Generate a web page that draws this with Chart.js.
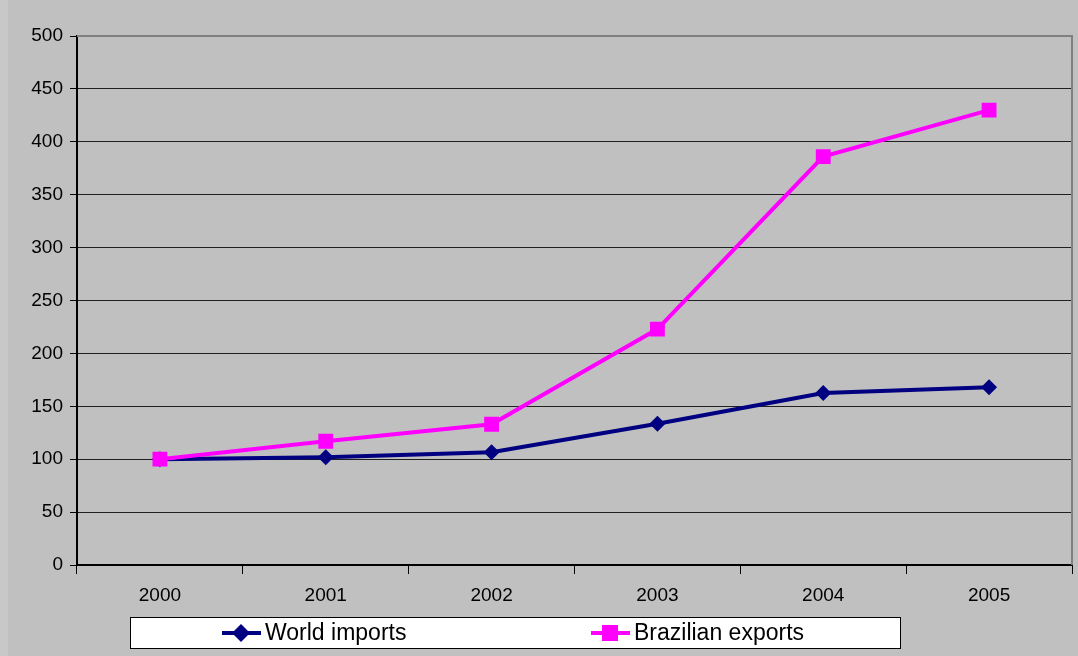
<!DOCTYPE html>
<html>
<head>
<meta charset="utf-8">
<script src="https://cdn.jsdelivr.net/npm/chart.js@4"></script>
<style>
  html, body { margin: 0; padding: 0; background: #c0c0c0; }
  #wrap { width: 1078px; height: 656px; position: relative; }
</style>
</head>
<body>
<div id="wrap"><canvas id="myChart" width="1078" height="656"></canvas></div>
<script>
// years on the x axis
var years = ['2000', '2001', '2002', '2003', '2004', '2005'];
// index values (2000 = 100)
var worldImports = [100, 101.8, 106.5, 133.5, 162.5, 168];
var brazilianExports = [100, 117, 133, 223, 386, 430];
var yTicks = [0, 50, 100, 150, 200, 250, 300, 350, 400, 450, 500];

(function () {
    var ctx = document.getElementById('myChart');

    // background, plot frame and the boxed legend at the bottom
    var excelLook = {
        id: 'excelLook',
        beforeDraw: function (chart) {
            var c = chart.ctx;
            c.save();
            c.fillStyle = '#c0c0c0';
            c.fillRect(0, 0, chart.width, chart.height);
            c.fillStyle = '#c8c8c8';
            c.fillRect(0, 0, 8, chart.height);
            c.restore();
        },
        afterDatasetsDraw: function (chart) {
            var a = chart.chartArea;
            var c = chart.ctx;
            c.save();
            c.strokeStyle = '#808080';
            c.lineWidth = 2;
            c.beginPath();
            c.moveTo(a.left, a.top);
            c.lineTo(a.right, a.top);
            c.lineTo(a.right, a.bottom);
            c.stroke();
            c.restore();
        },
        afterDraw: function (chart) {
            var c = chart.ctx;
            c.save();
            c.fillStyle = '#ffffff';
            c.fillRect(130, 617, 770, 31);
            c.strokeStyle = '#000000';
            c.lineWidth = 1;
            c.strokeRect(130.5, 617.5, 770, 31);
            var spots = [222, 591];
            c.font = '23px "Liberation Sans", Arial, sans-serif';
            c.textBaseline = 'middle';
            chart.data.datasets.forEach(function (ds, i) {
                var x = spots[i];
                var y = 633;
                c.strokeStyle = ds.borderColor;
                c.lineWidth = 4;
                c.beginPath();
                c.moveTo(x, y);
                c.lineTo(x + 39, y);
                c.stroke();
                c.fillStyle = ds.backgroundColor;
                var m = x + 19;
                c.beginPath();
                if (ds.pointStyle === 'rect') {
                    c.rect(m - 8, y - 8, 16, 16);
                } else {
                    c.moveTo(m, y - 9);
                    c.lineTo(m + 9, y);
                    c.lineTo(m, y + 9);
                    c.lineTo(m - 9, y);
                    c.closePath();
                }
                c.fill();
                c.fillStyle = '#000000';
                c.fillText(ds.label, x + 43, y + 1);
            });
            c.restore();
        }
    };

    var myChart = new Chart(ctx, {
        type: 'line',
        data: {
            labels: years,
            datasets: [
                {
                    label: 'World imports',
                    data: worldImports,
                    order: 1,
                    borderColor: '#000080',
                    backgroundColor: '#000080',
                    borderWidth: 4,
                    pointStyle: 'rectRot',
                    pointRadius: 8,
                    pointBorderWidth: 0,
                    tension: 0
                },
                {
                    label: 'Brazilian exports',
                    data: brazilianExports,
                    order: 0,
                    borderColor: '#ff00ff',
                    backgroundColor: '#ff00ff',
                    borderWidth: 4,
                    pointStyle: 'rect',
                    pointRadius: 10.5,
                    pointBorderWidth: 0,
                    tension: 0
                }
            ]
        },
        options: {
            responsive: false,
            animation: false,
            layout: { autoPadding: false, padding: { top: 36, right: 6, left: 0, bottom: 0 } },
            plugins: {
                legend: { display: false },
                title: { display: false },
                tooltip: { enabled: false }
            },
            scales: {
                x: {
                    offset: true,
                    grid: {
                        offset: true,
                        drawOnChartArea: false,
                        drawTicks: true,
                        tickLength: 9,
                        color: '#000000',
                        lineWidth: 1
                    },
                    border: { color: '#000000', width: 2 },
                    ticks: {
                        color: '#000000',
                        padding: 10,
                        maxRotation: 0,
                        font: { family: '"Liberation Sans", Arial, sans-serif', size: 19 }
                    },
                    afterFit: function (scale) { scale.height = 91; }
                },
                y: {
                    min: 0,
                    max: 500,
                    afterBuildTicks: function (scale) {
                        scale.ticks = yTicks.map(function (v) { return { value: v }; });
                    },
                    grid: {
                        color: '#202020',
                        lineWidth: 1,
                        tickLength: 7,
                        tickColor: '#000000'
                    },
                    border: { color: '#000000', width: 2 },
                    ticks: {
                        color: '#000000',
                        padding: 7,
                        font: { family: '"Liberation Sans", Arial, sans-serif', size: 19 }
                    },
                    afterFit: function (scale) { scale.width = 77; }
                }
            }
        },
        plugins: [excelLook]
    });
}());
</script>
</body>
</html>
